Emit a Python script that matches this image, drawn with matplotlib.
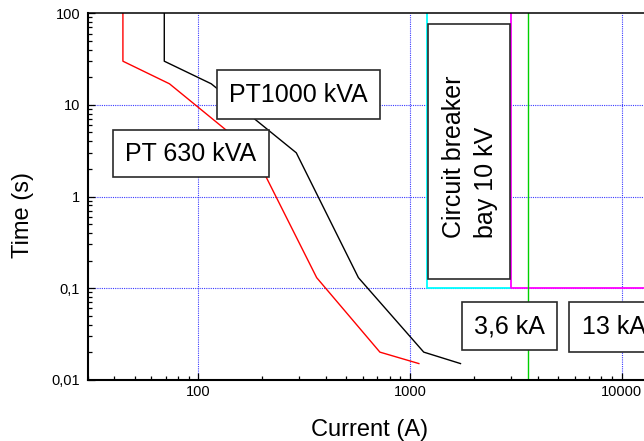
import matplotlib
matplotlib.use("Agg")
import matplotlib.pyplot as plt
from matplotlib.patches import Rectangle
from matplotlib.ticker import FixedLocator, FixedFormatter, LogLocator, NullFormatter

plt.rcParams['font.family'] = ['Liberation Sans', 'DejaVu Sans']

# ---- data ----
i_pt630 = [44, 44, 73, 183, 362, 720, 1100]
t_pt630 = [100, 30, 17, 3, 0.13, 0.02, 0.015]
i_pt1000 = [69, 69, 115, 290, 570, 1160, 1730]
t_pt1000 = [100, 30, 17, 3, 0.13, 0.02, 0.015]

cb_cyan_i = [1200, 1200, 3000]
cb_cyan_t = [100, 0.1, 0.1]
cb_mag_i = [3000, 3000, 30000]
cb_mag_t = [100, 0.1, 0.1]
isc_i = [3600, 3600]
isc_t = [0.01, 100]

x_ticks = [100, 1000, 10000]
x_ticklabels = ["100", "1000", "10000"]
y_ticks = [0.01, 0.1, 1, 10, 100]
y_ticklabels = ["0,01", "0,1", "1", "10", "100"]

W, H = 644, 441
fig = plt.figure(figsize=(W / 100, H / 100), dpi=100)
ax = fig.add_axes([87.7 / W, (H - 379.7) / H, 635.1 / W, 366.4 / H])
ax.set_xscale('log')
ax.set_yscale('log')
ax.set_xlim(30, 30000)
ax.set_ylim(0.01, 100)

grid_kw = dict(color='#3a3aff', lw=0.8, ls=(0, (1, 1)), zorder=1)
for xv in x_ticks:
    ax.axvline(xv, **grid_kw)
for yv in [0.1, 1, 10]:
    ax.axhline(yv, **grid_kw)

ax.plot(i_pt630, t_pt630, color='#ff0000', lw=1.0, zorder=3)
ax.plot(i_pt1000, t_pt1000, color='black', lw=1.0, zorder=3)
ax.plot(cb_cyan_i, cb_cyan_t, color='#00ffff', lw=1.3, zorder=3)
ax.plot(cb_mag_i, cb_mag_t, color='#ff00ff', lw=1.3, zorder=3)
ax.plot(isc_i, isc_t, color='#00d000', lw=1.0, zorder=3)

ax.xaxis.set_major_locator(FixedLocator(x_ticks))
ax.xaxis.set_major_formatter(FixedFormatter(x_ticklabels))
ax.xaxis.set_minor_locator(LogLocator(base=10, subs=range(2, 10)))
ax.xaxis.set_minor_formatter(NullFormatter())
ax.yaxis.set_major_locator(FixedLocator(y_ticks))
ax.yaxis.set_major_formatter(FixedFormatter(y_ticklabels))
ax.yaxis.set_minor_locator(LogLocator(base=10, subs=range(2, 10)))
ax.yaxis.set_minor_formatter(NullFormatter())

ax.tick_params(which='major', direction='in', length=5, width=0.9, labelsize=10.5)
ax.tick_params(which='minor', direction='in', length=3, width=0.9)
ax.tick_params(axis='y', which='major', pad=5.5)
ax.tick_params(axis='x', which='major', pad=3.5)
ax.tick_params(top=False, right=False, which='both')

ax.spines['left'].set_linewidth(1.5)
ax.spines['bottom'].set_linewidth(1.5)
ax.spines['top'].set_linewidth(1.1)
for s in ax.spines.values():
    s.set_zorder(7)


def fx(px):
    return px / W


def fy(py):
    return 1 - py / H


def box(x0, y0, x1, y1):
    r = Rectangle((fx(x0), fy(y1)), fx(x1) - fx(x0), fy(y0) - fy(y1),
                  transform=fig.transFigure, facecolor='white',
                  edgecolor='#2a2a2a', lw=1.2, zorder=5, clip_on=False)
    ax.add_patch(r)


box(112.7, 130, 269.3, 177.3)
ax.text(fx(191), fy(154), "PT 630 kVA", transform=fig.transFigure,
        ha='center', va='center', fontsize=18, zorder=6)
box(217.3, 70.3, 380.3, 119)
ax.text(fx(298.8), fy(95), "PT1000 kVA", transform=fig.transFigure,
        ha='center', va='center', fontsize=18, zorder=6)
box(428, 23.7, 509.7, 279.3)
ax.text(fx(470), fy(156.5), "Circuit breaker\nbay 10 kV", transform=fig.transFigure,
        ha='center', va='center', rotation=90, multialignment='left',
        linespacing=1.45, fontsize=18, zorder=6)
box(461.7, 302.3, 556.7, 350)
ax.text(fx(509.5), fy(326.5), "3,6 kA", transform=fig.transFigure,
        ha='center', va='center', fontsize=18, zorder=6)
box(569.3, 302, 660, 351.7)
ax.text(fx(581.7), fy(327), "13 kA", transform=fig.transFigure,
        ha='left', va='center', fontsize=18, zorder=6)

fig.text(fx(370), fy(436), "Current (A)", ha='center', va='baseline', fontsize=17)
fig.text(fx(23), fy(215), "Time (s)", ha='center', va='center', rotation=90, fontsize=17)

fig.savefig("out.png", dpi=100)
